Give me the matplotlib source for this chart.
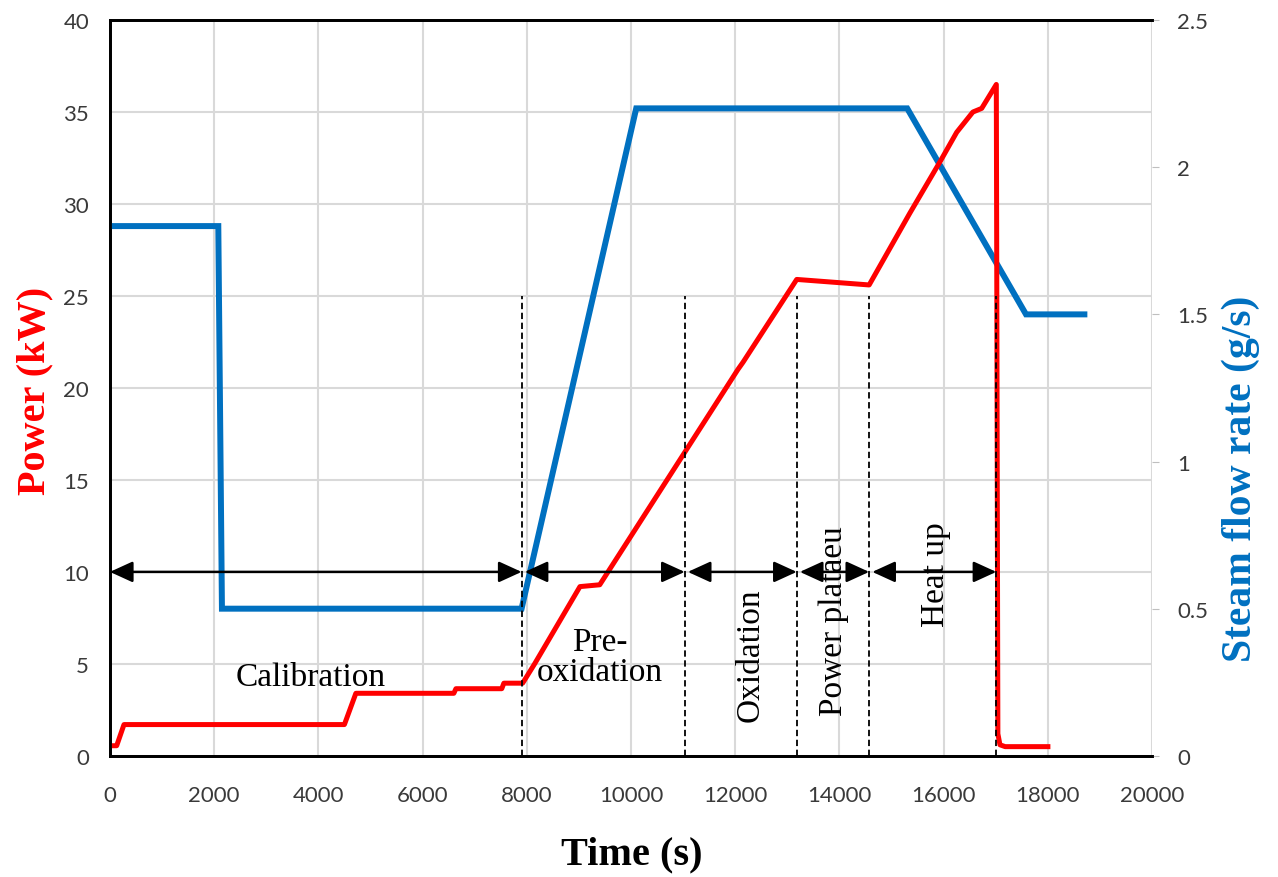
import numpy as np
import matplotlib
matplotlib.use("Agg")
import matplotlib.pyplot as plt
from matplotlib.ticker import FuncFormatter

# power (left axis, kW)
power_t = [0, 130, 270, 4500, 4720, 6600, 6640, 7520, 7560, 7920, 8150, 9020,
           9400, 12050, 12150, 13180, 14570, 15350, 15930, 16250, 16560, 16730,
           17010, 17040, 17080, 17180, 18000]
power_kw = [0.55, 0.55, 1.7, 1.7, 3.4, 3.4, 3.65, 3.65, 3.95, 3.95, 5.0, 9.2,
            9.3, 21.0, 21.4, 25.9, 25.6, 29.5, 32.3, 33.9, 35.0, 35.2,
            36.5, 1.2, 0.6, 0.5, 0.5]

# steam flow rate (right axis, g/s)
steam_t = [0, 2080, 2150, 7900, 10100, 15300, 17580, 18700]
steam_gs = [1.8, 1.8, 0.5, 0.5, 2.2, 2.2, 1.5, 1.5]

# phase boundaries and labels
bounds = [0, 7900, 11030, 13180, 14570, 17010]
phase_names = ["Calibration", "Pre-\noxidation", "Oxidation", "Power plataeu", "Heat up"]
label_x = [3850, 9400, 12300, 13900, 15850]
label_y = [4.3, 5.4, 5.5, 7.4, 9.9]
label_rot = [0, 0, 90, 90, 90]

serif = "Liberation Serif"
tickfont = "Lato"

fig = plt.figure(figsize=(12.78, 8.78), dpi=100)
ax = fig.add_axes([0.086, 0.138, 0.8155, 0.838])
ax2 = ax.twinx()

ax.set_xlim(0, 20000)
ax.set_ylim(0, 40)
ax2.set_ylim(0, 2.5)
ax.set_xticks(np.arange(0, 20001, 2000))
ax.set_yticks(np.arange(0, 41, 5))
ax2.set_yticks([0, 0.5, 1, 1.5, 2, 2.5])
ax2.yaxis.set_major_formatter(FuncFormatter(lambda v, p: "%g" % v))

ax.grid(True, color="#d9d9d9", lw=1.5)
ax.set_axisbelow(True)

for a in (ax, ax2):
    for s in ("left", "bottom", "top"):
        a.spines[s].set_color("black")
        a.spines[s].set_linewidth(2)
    a.spines["right"].set_visible(False)

ax.tick_params(axis="both", length=0, pad=15, labelsize=16, labelcolor="#3a3a3a")
ax.tick_params(axis="x", pad=21)
ax2.tick_params(axis="y", length=5, color="#bfbfbf", pad=13, labelsize=16, labelcolor="#3a3a3a")
for lab in ax.get_xticklabels() + ax.get_yticklabels() + ax2.get_yticklabels():
    lab.set_fontfamily(tickfont)

# lines
ax2.plot(steam_t, steam_gs, color="#0070C0", lw=4.3, solid_joinstyle="miter")
ax2.plot(power_t, power_kw, color="#FF0000", lw=3.6, transform=ax.transData)

# phase markers
ax2.vlines(bounds[1:], 0, 25, colors="black", linestyles=(0, (3.5, 2)), lw=1.3,
           transform=ax.transData)
for i in range(len(bounds) - 1):
    x0 = bounds[i] + (60 if i > 0 else 0)
    x1 = bounds[i + 1]
    ax2.annotate("", xy=(x1, 10), xytext=(x0, 10),
                 xycoords=ax.transData, textcoords=ax.transData,
                 arrowprops=dict(arrowstyle="<|-|>,head_length=0.7,head_width=0.32",
                                 color="black", lw=1.8, mutation_scale=20,
                                 shrinkA=0, shrinkB=0))
for name, lx, ly, rot in zip(phase_names, label_x, label_y, label_rot):
    ax2.text(lx, ly, name, transform=ax.transData, rotation=rot,
             ha="center", va="center", fontsize=24, family=serif,
             linespacing=1.0)

# axis titles
fig.text(0.027, 0.555, "Power (kW)", rotation=90, ha="center", va="center",
         fontsize=29, fontweight="bold", family=serif, color="#FF0000")
fig.text(0.971, 0.455, "Steam flow rate (g/s)", rotation=90, ha="center", va="center",
         fontsize=30, fontweight="bold", family=serif, color="#0070C0")
fig.text(0.494, 0.026, "Time (s)", ha="center", va="center",
         fontsize=29, fontweight="bold", family=serif, color="black")

fig.savefig("out.png", dpi=100)
